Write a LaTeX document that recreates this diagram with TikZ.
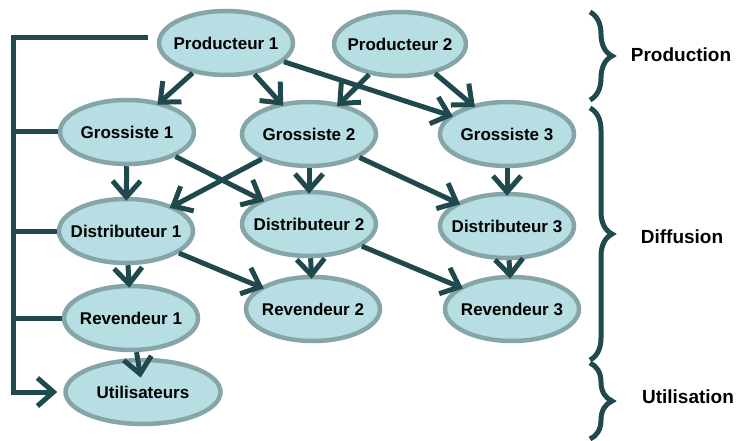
\documentclass[tikz,border=0pt]{standalone}
\usepackage{fontspec}
\setmainfont{Liberation Sans}
\usepackage{tikz}
\usetikzlibrary{shapes,arrows.meta,decorations.pathreplacing}
\definecolor{acteurfond}{RGB}{183,222,226}
\definecolor{acteurbord}{RGB}{134,165,168}
\definecolor{fleche}{RGB}{31,73,77}

\begin{document}
\begin{tikzpicture}[x=1pt,y=-1pt,
    acteur/.style={ellipse,draw=acteurbord,fill=acteurfond,line width=4.5pt,inner sep=0pt,
        minimum width=134pt,minimum height=64pt,font=\fontsize{17}{19}\selectfont\bfseries,
        execute at begin node={\hbox to 0pt\bgroup\hss},execute at end node={\hss\egroup}},
    lien/.style={draw=fleche,line width=5pt,shorten >=-4pt,
        -{Straight Barb[length=16pt,width=28pt,line width=5pt]}},
    bus/.style={draw=fleche,line width=5pt},
    accolade/.style={draw=fleche,line width=5pt,decorate,decoration={brace,amplitude=22pt}},
    niveau/.style={font=\fontsize{19}{21}\selectfont\bfseries}]
        \useasboundingbox (0,0) rectangle (739,441);

        % Production
        \node[acteur] (p1) at (226,43) {Producteur 1};
        \node[acteur,minimum width=132pt] (p2) at (400,44) {Producteur 2};

        % Diffusion
        \node[acteur] (g1) at (127,132) {Grossiste 1};
        \node[acteur] (g2) at (309,134) {Grossiste 2};
        \node[acteur] (g3) at (507,134) {Grossiste 3};
        \node[acteur] (d1) at (126,231) {Distributeur 1};
        \node[acteur] (d2) at (309,224) {Distributeur 2};
        \node[acteur] (d3) at (507,226) {Distributeur 3};
        \node[acteur] (r1) at (131,318) {Revendeur 1};
        \node[acteur] (r2) at (313,309) {Revendeur 2};
        \node[acteur] (r3) at (512,309) {Revendeur 3};

        % Utilisation
        \node[acteur,minimum width=155pt] (u1) at (143,392) {Utilisateurs};

        \draw[lien] (p1) -- (g1);
        \draw[lien] (p1) -- (g2);
        \draw[lien] (p1) -- (g3);
        \draw[lien] (p2) -- (g2);
        \draw[lien] (p2) -- (g3);
        \draw[lien] (g1) -- (d1);
        \draw[lien] (g1) -- (d2);
        \draw[lien] (g2) -- (d1);
        \draw[lien] (g2) -- (d2);
        \draw[lien] (g2) -- (d3);
        \draw[lien] (g3) -- (d3);
        \draw[lien] (d1) -- (r1);
        \draw[lien] (d1) -- (r2);
        \draw[lien] (d2) -- (r2);
        \draw[lien] (d2) -- (r3);
        \draw[lien] (d3) -- (r3);
        \draw[lien,shorten >=-20pt] (r1) -- (u1);

        % Left bus
        \coordinate (busx) at (13,0);
        \draw[bus,-{Straight Barb[length=16pt,width=28pt,line width=5pt]},shorten <=9pt,shorten >=6pt]
            ([yshift=5pt]p1.west) -- ([yshift=5pt]p1.west -| busx) -- (u1.west -| busx) -- (u1.west);
        \draw[bus] (g1.west) -- (g1.west -| busx);
        \draw[bus] (d1.west) -- (d1.west -| busx);
        \draw[bus] (r1.west) -- (r1.west -| busx);

        % Braces
        \draw[accolade] (590,12) -- (590,100);
        \draw[accolade] (590,108) -- (590,360);
        \draw[accolade] (590,363) -- (590,439);
        \node[niveau] (prod) at (681,55) {Production};
        \node[niveau] (diff) at (682,237) {Diffusion};
        \node[niveau] (util) at (688,397) {Utilisation};
    \end{tikzpicture}
\end{document}
